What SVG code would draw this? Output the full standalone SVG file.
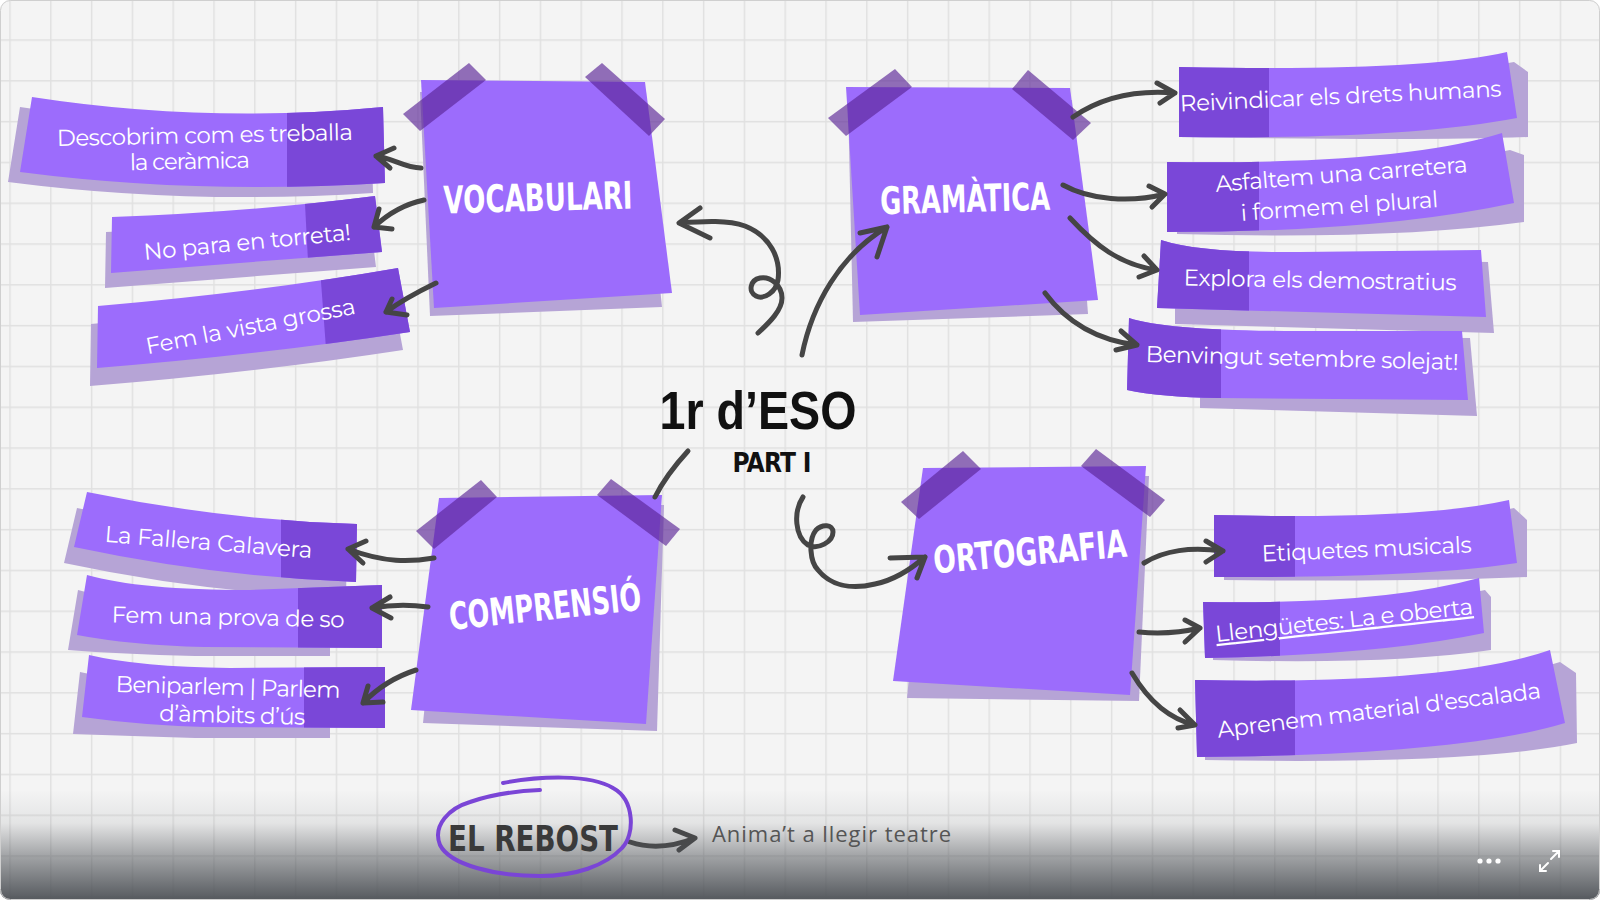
<svg xmlns="http://www.w3.org/2000/svg" width="1600" height="900" viewBox="0 0 1600 900">
<style>
.ban{fill:#9c6cfc}
.note{fill:#9c6cfc}
.shd{fill:#b6a4d6}
.dk{fill:#7a47d8}
.tape{fill:#5a2596;fill-opacity:.65}
.lbl{font-family:Montserrat,'Open Sans','Noto Sans',sans-serif;font-size:23px;fill:#fff;text-anchor:middle}
.hd{font-family:'Liberation Sans Narrow','DejaVu Sans Condensed','Liberation Sans',sans-serif;font-weight:bold;font-size:38px;fill:#fff;text-anchor:middle}
.con{fill:none;stroke:#454545;stroke-width:5;stroke-linecap:round;stroke-linejoin:round}
</style>
<defs>
<pattern id="grid" x="9.3" y="39.3" width="40.8" height="40.8" patternUnits="userSpaceOnUse">
<path d="M0,0.7 H40.8 M0.7,0 V40.8" fill="none" stroke="#e0e0e0" stroke-width="1.4"/>
</pattern>
<linearGradient id="fade" x1="0" y1="790" x2="0" y2="900" gradientUnits="userSpaceOnUse">
<stop offset="0" stop-color="#4f5358" stop-opacity="0"/>
<stop offset="0.3" stop-color="#4f5358" stop-opacity="0.1"/>
<stop offset="0.6" stop-color="#4f5358" stop-opacity="0.5"/>
<stop offset="1" stop-color="#4f5358" stop-opacity="0.96"/>
</linearGradient>
<clipPath id="frame"><rect x="0" y="0" width="1600" height="900" rx="10"/></clipPath>
<path id="pb1" d="M32,97 Q207,124 383,107 L385,183 Q198,195 20,172 Z"/>
<path id="pb2" d="M112,217 Q250,212 375,196 L382,252 Q250,262 111,273 Z"/>
<path id="pb3" d="M98,306 Q260,292 398,268 L410,332 Q260,355 97,368 Z"/>
<path id="pg1" d="M1179,67 Q1420,72 1507,52 L1517,118 Q1400,140 1179,137 Z"/>
<path id="pg2" d="M1167,162 Q1400,165 1502,133 L1514,203 Q1380,232 1167,232 Z"/>
<path id="pg3" d="M1161,240 Q1200,253 1300,252 L1481,250 L1486,317 L1157,308 Z"/>
<path id="pg4" d="M1129,318 Q1170,331 1300,331 L1462,331 L1468,400 L1218,398 Q1160,397 1127,390 Z"/>
<path id="pc1" d="M87,492 Q222,520 357,524 L356,582 Q215,577 74,547 Z"/>
<path id="pc2" d="M87,575 Q140,590 250,590 L382,585 L382,648 L204,647 Q130,645 77,635 Z"/>
<path id="pc3" d="M89,655 Q140,667 230,668 L385,667 L385,728 L204,727 Q140,725 82,717 Z"/>
<path id="po1" d="M1214,515 Q1420,520 1509,500 L1517,563 Q1420,578 1214,577 Z"/>
<path id="po2" d="M1203,602 Q1380,605 1479,578 L1484,633 Q1380,655 1205,658 Z"/>
<path id="po3" d="M1195,680 Q1450,685 1550,650 L1565,723 Q1460,755 1197,757 Z"/>
<clipPath id="cb1"><use href="#pb1"/></clipPath>
<clipPath id="cb2"><use href="#pb2"/></clipPath>
<clipPath id="cb3"><use href="#pb3"/></clipPath>
<clipPath id="cg1"><use href="#pg1"/></clipPath>
<clipPath id="cg2"><use href="#pg2"/></clipPath>
<clipPath id="cg3"><use href="#pg3"/></clipPath>
<clipPath id="cg4"><use href="#pg4"/></clipPath>
<clipPath id="cc1"><use href="#pc1"/></clipPath>
<clipPath id="cc2"><use href="#pc2"/></clipPath>
<clipPath id="cc3"><use href="#pc3"/></clipPath>
<clipPath id="co1"><use href="#po1"/></clipPath>
<clipPath id="co2"><use href="#po2"/></clipPath>
<clipPath id="co3"><use href="#po3"/></clipPath>
</defs>

<g clip-path="url(#frame)">
<rect x="0" y="0" width="1600" height="900" fill="#f4f4f4"/>
<rect x="0" y="0" width="1600" height="900" fill="url(#grid)"/>

<!-- Vocabulari banners -->
<g id="lbl-descobrim">
<use href="#pb1" class="shd" transform="translate(-12,10)"/>
<use href="#pb1" class="ban"/>
<rect x="287" y="90" width="110" height="110" class="dk" clip-path="url(#cb1)"/>
<text class="lbl" x="205" y="143" textLength="296" transform="rotate(-1.2 205 143)">Descobrim com es treballa</text>
<text class="lbl" x="190" y="169" textLength="120" transform="rotate(-1.2 190 169)">la ceràmica</text>
</g>
<g id="lbl-torreta">
<use href="#pb2" class="shd" transform="translate(-6,15)"/>
<use href="#pb2" class="ban"/>
<polygon points="304,185 400,185 400,280 309,280" class="dk" clip-path="url(#cb2)"/>
<text class="lbl" x="248" y="250" textLength="208" transform="rotate(-5.5 248 250)">No para en torreta!</text>
</g>
<g id="lbl-vista">
<use href="#pb3" class="shd" transform="translate(-7,18)"/>
<use href="#pb3" class="ban"/>
<polygon points="319,255 420,255 420,375 328,375" class="dk" clip-path="url(#cb3)"/>
<text class="lbl" x="252" y="334" textLength="213" transform="rotate(-11 252 334)">Fem la vista grossa</text>
</g>

<!-- Gramatica banners -->
<g id="lbl-reivindicar">
<path d="M1189,74 Q1430,79 1514,62 L1528,72 L1528,137 Q1420,141 1189,137 Z" class="shd"/>
<use href="#pg1" class="ban"/>
<rect x="1170" y="40" width="99" height="110" class="dk" clip-path="url(#cg1)"/>
<text class="lbl" x="1341" y="104" textLength="322" transform="rotate(-2.7 1341 104)">Reivindicar els drets humans</text>
</g>
<g id="lbl-asfaltem">
<path d="M1177,168 Q1410,171 1510,150 L1524,155 L1524,222 Q1390,240 1177,234 Z" class="shd"/>
<use href="#pg2" class="ban"/>
<rect x="1160" y="120" width="99" height="120" class="dk" clip-path="url(#cg2)"/>
<text class="lbl" x="1342" y="182" textLength="253" transform="rotate(-4.5 1342 182)">Asfaltem una carretera</text>
<text class="lbl" x="1340" y="214" textLength="198" transform="rotate(-4 1340 214)">i formem el plural</text>
</g>
<g id="lbl-explora">
<path d="M1175,256 L1488,262 L1494,333 L1175,324 Z" class="shd"/>
<use href="#pg3" class="ban"/>
<rect x="1150" y="230" width="99" height="90" class="dk" clip-path="url(#cg3)"/>
<text class="lbl" x="1320" y="288" textLength="273" transform="rotate(1 1320 288)">Explora els demostratius</text>
</g>
<g id="lbl-benvingut">
<path d="M1200,336 L1470,338 L1477,416 L1200,408 Z" class="shd"/>
<use href="#pg4" class="ban"/>
<rect x="1120" y="310" width="101" height="95" class="dk" clip-path="url(#cg4)"/>
<text class="lbl" x="1302" y="366" textLength="313" transform="rotate(1.5 1302 366)">Benvingut setembre solejat!</text>
</g>

<!-- Comprensio banners -->
<g id="lbl-fallera">
<use href="#pc1" class="shd" transform="translate(-10,16)"/>
<use href="#pc1" class="ban"/>
<rect x="281" y="480" width="90" height="110" class="dk" clip-path="url(#cc1)"/>
<text class="lbl" x="208" y="550" textLength="208" transform="rotate(4.5 208 550)">La Fallera Calavera</text>
</g>
<g id="lbl-prova">
<path d="M78,590 Q131,605 241,605 L330,603 L330,656 L195,656 Q121,654 68,650 Z" class="shd"/>
<use href="#pc2" class="ban"/>
<rect x="298" y="570" width="90" height="90" class="dk" clip-path="url(#cc2)"/>
<text class="lbl" x="228" y="625" textLength="233" transform="rotate(1.2 228 625)">Fem una prova de so</text>
</g>
<g id="lbl-beniparlem">
<path d="M80,672 Q131,684 221,685 L330,685 L330,738 L195,738 Q131,736 73,734 Z" class="shd"/>
<use href="#pc3" class="ban"/>
<rect x="304" y="650" width="90" height="90" class="dk" clip-path="url(#cc3)"/>
<text class="lbl" x="228" y="695" textLength="225" transform="rotate(1.5 228 695)">Beniparlem | Parlem</text>
<text class="lbl" x="232" y="723" textLength="146" transform="rotate(1.5 232 723)">d’àmbits d’ús</text>
</g>

<!-- Ortografia banners -->
<g id="lbl-etiquetes">
<path d="M1224,522 Q1430,527 1514,508 L1527,520 L1527,577 Q1420,582 1224,580 Z" class="shd"/>
<use href="#po1" class="ban"/>
<rect x="1205" y="490" width="90" height="100" class="dk" clip-path="url(#co1)"/>
<text class="lbl" x="1367" y="557" textLength="210" transform="rotate(-2.5 1367 557)">Etiquetes musicals</text>
</g>
<g id="lbl-llenguetes">
<path d="M1213,608 Q1390,611 1485,590 L1491,597 L1491,650 Q1390,665 1213,660 Z" class="shd"/>
<use href="#po2" class="ban"/>
<rect x="1195" y="570" width="85" height="100" class="dk" clip-path="url(#co2)"/>
<text class="lbl" x="1345" y="628" textLength="259" text-decoration="underline" transform="rotate(-6.2 1345 628)">Llengüetes: La e oberta</text>
</g>
<g id="lbl-aprenem">
<path d="M1205,688 Q1460,693 1560,662 L1576,673 L1577,743 Q1470,765 1205,760 Z" class="shd"/>
<use href="#po3" class="ban"/>
<rect x="1185" y="640" width="110" height="125" class="dk" clip-path="url(#co3)"/>
<text class="lbl" x="1380" y="718" textLength="326" transform="rotate(-7 1380 718)">Aprenem material d'escalada</text>
</g>

<!-- Notes -->
<g id="vocabulari">
<polygon points="420,92 640,95 662,307 430,316" class="shd"/>
<polygon points="421,80 645,82 672,293 434,308" class="note"/>
<polygon points="403,114 469,63 486,80 420,131" class="tape"/>
<polygon points="585,77 602,63 665,119 649,136" class="tape"/>
<text class="hd" x="538" y="211" textLength="189" lengthAdjust="spacingAndGlyphs" transform="rotate(-1.5 538 198)">VOCABULARI</text>
</g>
<g id="gramatica">
<polygon points="848,100 1072,100 1088,314 853,322" class="shd"/>
<polygon points="846,87 1070,88 1098,300 860,315" class="note"/>
<polygon points="828,118 895,69 912,87 846,136" class="tape"/>
<polygon points="1012,89 1028,70 1091,123 1073,140" class="tape"/>
<text class="hd" x="965" y="212" textLength="170" lengthAdjust="spacingAndGlyphs" transform="rotate(-1.5 965 198)">GRAMÀTICA</text>
</g>
<g id="comprensio">
<polygon points="446,505 664,505 657,731 423,723" class="shd"/>
<polygon points="439,498 662,495 646,724 411,710" class="note"/>
<polygon points="416,531 481,480 497,497 434,549" class="tape"/>
<polygon points="597,495 611,479 680,529 666,546" class="tape"/>
<text class="hd" x="545" y="620" textLength="193" lengthAdjust="spacingAndGlyphs" transform="rotate(-6 545 607)">COMPRENSIÓ</text>
</g>
<g id="ortografia">
<polygon points="928,478 1149,476 1139,701 907,698" class="shd"/>
<polygon points="923,468 1146,466 1130,695 893,681" class="note"/>
<polygon points="901,502 963,451 981,469 919,519" class="tape"/>
<polygon points="1081,466 1096,449 1165,500 1150,517" class="tape"/>
<text class="hd" x="1030" y="565" textLength="194" lengthAdjust="spacingAndGlyphs" transform="rotate(-5 1030 553)">ORTOGRAFIA</text>
</g>

<!-- Connectors -->
<g id="connectors">
<path class="con" d="M421,168 C405,168 392,158 376,156 M394,148 L376,156 L390,168"/>
<path class="con" d="M424,200 Q396,206 374,227 M379,209 L374,227 L392,229"/>
<path class="con" d="M436,283 Q405,298 386,312 M392,299 L386,312 L407,315"/>
<path class="con" d="M758,333 C770,322 782,310 782,298 C782,285 770,276 760,278 C750,280 748,292 756,296 C764,300 776,292 778,280 C781,258 770,236 745,226 C728,220 705,221 680,223 M700,208 L679,223 L710,238"/>
<path class="con" d="M802,355 C812,305 840,255 887,227 M860,233 L887,227 L877,257"/>
<path class="con" d="M688,451 Q666,475 655,497"/>
<path class="con" d="M803,497 C793,512 795,537 808,545 C818,550 833,542 833,532 C833,524 822,524 816,530 C808,540 810,562 818,570 C830,585 850,590 875,584 C895,580 910,570 925,557 M890,558 L925,557 L917,578"/>
<path class="con" d="M1073,117 Q1115,88 1175,93 M1157,83 L1175,93 L1160,103"/>
<path class="con" d="M1063,185 C1090,200 1130,203 1165,194 M1149,186 L1165,194 L1152,207"/>
<path class="con" d="M1070,218 C1095,245 1120,265 1157,270 M1144,256 L1157,270 L1139,277"/>
<path class="con" d="M1045,293 C1065,320 1095,340 1137,345 M1121,331 L1137,345 L1116,350"/>
<path class="con" d="M434,558 C410,562 385,563 348,549 M366,541 L348,549 L363,563"/>
<path class="con" d="M428,607 Q400,603 372,608 M390,597 L372,608 L391,618"/>
<path class="con" d="M416,670 Q385,680 363,703 M368,686 L363,703 L383,702"/>
<path class="con" d="M1144,563 C1165,550 1190,547 1223,551 M1206,541 L1223,551 L1206,562"/>
<path class="con" d="M1139,632 Q1170,635 1200,628 M1185,620 L1200,628 L1185,642"/>
<path class="con" d="M1132,673 C1145,695 1165,718 1195,725 M1180,710 L1195,725 L1178,728"/>
<path class="con" d="M630,842 Q660,852 695,838 M675,830 L695,838 L679,850"/>
</g>

<!-- Center title -->
<g id="title">
<text x="758" y="429" textLength="197" lengthAdjust="spacingAndGlyphs" style="font-family:'Liberation Sans',Arial,sans-serif;font-weight:bold;font-size:53px;fill:#111;text-anchor:middle">1r d’ESO</text>
<text x="772" y="472" textLength="79" style="font-family:'Liberation Sans Narrow','DejaVu Sans Condensed',sans-serif;font-weight:bold;font-size:26px;fill:#111;text-anchor:middle">PART I</text>
</g>

<!-- bottom fade -->
<rect x="0" y="790" width="1600" height="110" fill="url(#fade)"/>

<g id="rebost">
<path d="M503,783 C540,776 590,774 613,788 C635,800 635,835 622,848 C605,866 575,876 540,876 C495,876 450,865 440,845 C432,825 450,808 470,802 C490,795 515,791 540,790" fill="none" stroke="#7a45d6" stroke-width="4" stroke-linecap="round"/>
<text x="533" y="851" textLength="170" lengthAdjust="spacingAndGlyphs" style="font-family:'Liberation Sans Narrow','DejaVu Sans Condensed',sans-serif;font-weight:bold;font-size:36px;fill:#3a3a3a;text-anchor:middle">EL REBOST</text>
</g>
<g id="anima">
<text x="712" y="842" textLength="239" style="font-family:'Open Sans','Noto Sans',sans-serif;font-size:22px;fill:#555">Anima’t a llegir teatre</text>
</g>

<g id="ui" fill="#fff">
<circle cx="1480" cy="861" r="2.6"/>
<circle cx="1489" cy="861" r="2.6"/>
<circle cx="1498" cy="861" r="2.6"/>
<path d="M1551,859 L1559,851 M1553,851 H1559 V857 M1548,863 L1540,871 M1540,865 V871 H1546" fill="none" stroke="#fff" stroke-width="2" stroke-linecap="round"/>
</g>
</g>
<rect x="0.5" y="0.5" width="1599" height="899" rx="10" fill="none" stroke="#cfcfcf" stroke-width="1"/>
</svg>
